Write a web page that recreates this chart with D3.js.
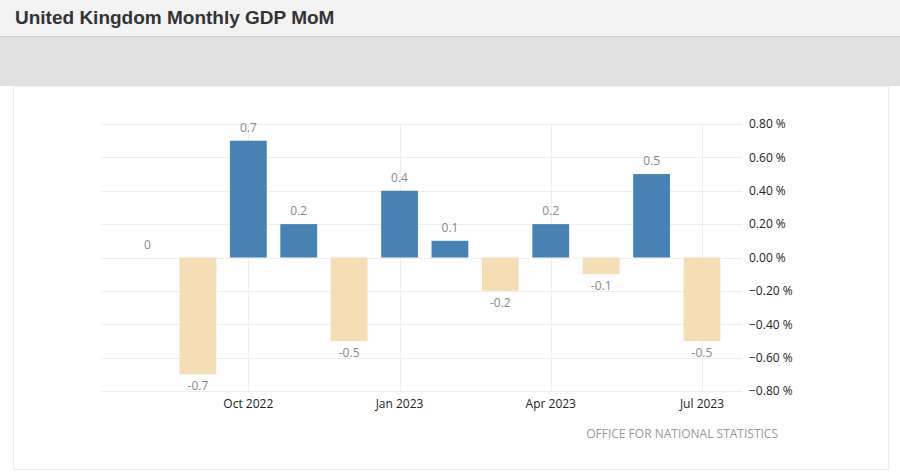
<!DOCTYPE html>
<html><head><meta charset="utf-8">
<script src="https://cdn.jsdelivr.net/npm/d3@7"></script>
<style>
html,body{margin:0;padding:0;background:#fff;}
svg{display:block;}
</style></head>
<body>
<svg id="c" width="900" height="473"></svg>
<script>
const months = ["Aug 2022","Sep 2022","Oct 2022","Nov 2022","Dec 2022","Jan 2023","Feb 2023","Mar 2023","Apr 2023","May 2023","Jun 2023","Jul 2023"];
const values = [0, -0.7, 0.7, 0.2, -0.5, 0.4, 0.1, -0.2, 0.2, -0.1, 0.5, -0.5];
const xTickLabels = ["Oct 2022","Jan 2023","Apr 2023","Jul 2023"];
const yTicks = [0.8, 0.6, 0.4, 0.2, 0, -0.2, -0.4, -0.6, -0.8];
const title = "United Kingdom Monthly GDP MoM";
const source = "OFFICE FOR NATIONAL STATISTICS";

const svg = d3.select("#c");
const font = "'Open Sans', 'Noto Sans', sans-serif";

// header
svg.append("rect").attr("x",0).attr("y",0).attr("width",900).attr("height",36).attr("fill","#f3f3f3");
svg.append("rect").attr("x",0).attr("y",36).attr("width",900).attr("height",1).attr("fill","#cfcfcf");
svg.append("rect").attr("x",0).attr("y",37).attr("width",900).attr("height",49).attr("fill","#e1e1e1");
svg.append("text").attr("x",15).attr("y",24).text(title)
  .attr("font-family","'Liberation Sans', Arial, sans-serif").attr("font-weight","bold")
  .attr("font-size",19).attr("fill","#333");

// frame
svg.append("rect").attr("x",13.5).attr("y",86.5).attr("width",875).attr("height",383)
  .attr("fill","#fff").attr("stroke","#ececec");

const x = d3.scaleBand().domain(months).range([122.3, 727.2]).paddingInner(0.27).paddingOuter(0.135);
const y = d3.scaleLinear().domain([-0.8, 0.8]).range([391, 124]);
const gx0 = 101, gx1 = 742;

// horizontal grid
svg.append("g").selectAll("line").data(yTicks).join("line")
  .attr("x1",gx0).attr("x2",gx1)
  .attr("y1",d=>Math.round(y(d))+0.5).attr("y2",d=>Math.round(y(d))+0.5)
  .attr("stroke","#eeeeee");

// vertical grid
svg.append("g").selectAll("line").data(xTickLabels).join("line")
  .attr("x1",d=>Math.round(x(d)+x.bandwidth()/2)+0.5).attr("x2",d=>Math.round(x(d)+x.bandwidth()/2)+0.5)
  .attr("y1",y(0.8)).attr("y2",y(-0.8))
  .attr("stroke","#eeeeee");

// bars
svg.append("g").selectAll("rect").data(values).join("rect")
  .attr("x",(d,i)=>x(months[i]))
  .attr("width",x.bandwidth())
  .attr("y",d=>y(Math.max(0,d)))
  .attr("height",d=>Math.abs(y(d)-y(0)))
  .attr("fill",d=>d>=0?"#4682b4":"#f5deb3");

// value labels
svg.append("g").selectAll("text").data(values).join("text")
  .attr("x",(d,i)=>x(months[i])+x.bandwidth()/2)
  .attr("y",d=>d>=0? y(d)-9 : y(d)+16)
  .attr("text-anchor","middle")
  .attr("font-family",font).attr("font-size",12).attr("fill","#888")
  .text(d=>String(d));

// x axis
const xAxis = d3.axisBottom(x).tickValues(xTickLabels).tickSize(0).tickPadding(0);
const gxA = svg.append("g").attr("transform","translate(0,"+(y(-0.8)+17)+")").call(xAxis);
gxA.select(".domain").remove();
gxA.selectAll("text").attr("font-family",font).attr("font-size",12).attr("fill","#222").attr("dy",0);

// y axis
const yAxis = d3.axisRight(y).tickValues(yTicks).tickSize(0).tickPadding(0)
  .tickFormat(d=>d3.format(".2f")(d)+" %");
const gyA = svg.append("g").attr("transform","translate(749,0)").call(yAxis);
gyA.select(".domain").remove();
gyA.selectAll("text").attr("font-family",font).attr("font-size",12).attr("fill","#222").attr("dy","0.32em");

// source
svg.append("text").attr("x",778).attr("y",438).attr("text-anchor","end")
  .attr("font-family",font).attr("font-size",12).attr("fill","#999").text(source);
</script>
</body></html>
